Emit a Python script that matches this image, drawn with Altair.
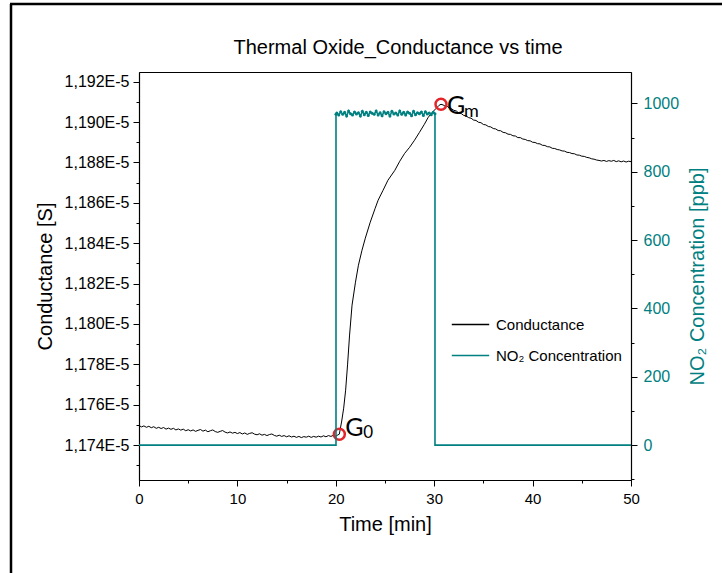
import altair as alt
import pandas as pd

# ---------------- data ----------------
cond_t = [0.00, 0.25, 0.50, 0.75, 1.00, 1.25, 1.50, 1.75, 2.00, 2.25, 2.50, 2.75,
          3.00, 3.25, 3.50, 3.75, 4.00, 4.25, 4.50, 4.75, 5.00, 5.25, 5.50, 5.75,
          6.00, 6.25, 6.50, 6.75, 7.00, 7.25, 7.50, 7.75, 8.00, 8.25, 8.50, 8.75,
          9.00, 9.25, 9.50, 9.75, 10.00, 10.25, 10.50, 10.75, 11.00, 11.25, 11.50, 11.75,
          12.00, 12.25, 12.50, 12.75, 13.00, 13.25, 13.50, 13.75, 14.00, 14.25, 14.50, 14.75,
          15.00, 15.25, 15.50, 15.75, 16.00, 16.25, 16.50, 16.75, 17.00, 17.25, 17.50, 17.75,
          18.00, 18.25, 18.50, 18.75, 19.00, 19.25, 19.50, 19.75, 20.00, 20.20,
          20.36, 20.60, 20.80, 21.00, 21.20, 21.40, 21.65, 22.00, 22.30, 22.66, 23.00, 23.50,
          24.00, 24.30, 24.80, 25.30, 26.00, 26.50, 27.00, 27.50, 28.00, 28.50, 29.00, 29.40,
          29.80, 30.20, 30.50, 30.69,
          30.90, 31.10, 31.30, 31.50, 31.75, 32.00, 32.25, 32.50, 32.75, 33.00, 33.25, 33.50,
          33.75, 34.00, 34.25, 34.50, 34.75, 35.00, 35.25, 35.50, 35.75, 36.00, 36.25, 36.50,
          36.75, 37.00, 37.25, 37.50, 37.75, 38.00, 38.25, 38.50, 38.75, 39.00, 39.25, 39.50,
          39.75, 40.00, 40.25, 40.50, 40.75, 41.00, 41.25, 41.50, 41.75, 42.00, 42.25, 42.50,
          42.75, 43.00, 43.25, 43.50, 43.75, 44.00, 44.25, 44.50, 44.75, 45.00, 45.25, 45.50,
          45.75, 46.00, 46.25, 46.50, 46.75, 47.00, 47.25, 47.50, 47.75, 48.00, 48.25, 48.50,
          48.75, 49.00, 49.25, 49.50, 49.75, 50.00]

# conductance in units of 1E-5 S
cond_v = [1.17497, 1.17490, 1.17495, 1.17488, 1.17493, 1.17486, 1.17491, 1.17483, 1.17488, 1.17482, 1.17487, 1.17479,
          1.17484, 1.17478, 1.17483, 1.17475, 1.17480, 1.17474, 1.17479, 1.17471, 1.17476, 1.17470, 1.17475, 1.17468,
          1.17473, 1.17477, 1.17469, 1.17474, 1.17466, 1.17471, 1.17475, 1.17467, 1.17463, 1.17468, 1.17472, 1.17464,
          1.17460, 1.17465, 1.17459, 1.17463, 1.17457, 1.17462, 1.17455, 1.17460, 1.17453, 1.17458, 1.17461, 1.17454,
          1.17451, 1.17456, 1.17449, 1.17453, 1.17447, 1.17452, 1.17455, 1.17448, 1.17444, 1.17449, 1.17443, 1.17447,
          1.17441, 1.17446, 1.17440, 1.17444, 1.17438, 1.17443, 1.17437, 1.17442, 1.17439, 1.17444, 1.17438, 1.17443,
          1.17439, 1.17444, 1.17440, 1.17446, 1.17441, 1.17447, 1.17443, 1.17448, 1.17444, 1.17450,
          1.17454, 1.17519, 1.17583, 1.17672, 1.17801, 1.17945, 1.18093, 1.18207, 1.18291, 1.18365, 1.18425, 1.18504,
          1.18573, 1.18613, 1.18662, 1.18712, 1.18761, 1.18806, 1.18845, 1.18875, 1.18910, 1.18949, 1.18989, 1.19024,
          1.19048, 1.19068, 1.19083, 1.19088,
          1.19085, 1.19079, 1.19081, 1.19070, 1.19066, 1.19058, 1.19055, 1.19044, 1.19042, 1.19033, 1.19030, 1.19022,
          1.19019, 1.19010, 1.19008, 1.18999, 1.18997, 1.18988, 1.18986, 1.18978, 1.18976, 1.18968, 1.18966, 1.18958,
          1.18957, 1.18949, 1.18947, 1.18940, 1.18939, 1.18932, 1.18931, 1.18923, 1.18923, 1.18916, 1.18914, 1.18908,
          1.18907, 1.18900, 1.18899, 1.18893, 1.18892, 1.18885, 1.18884, 1.18878, 1.18877, 1.18870, 1.18869, 1.18864,
          1.18862, 1.18857, 1.18856, 1.18850, 1.18849, 1.18844, 1.18843, 1.18837, 1.18836, 1.18831, 1.18830, 1.18825,
          1.18823, 1.18818, 1.18816, 1.18812, 1.18810, 1.18807, 1.18810, 1.18805, 1.18809, 1.18806, 1.18810, 1.18804,
          1.18808, 1.18803, 1.18807, 1.18802, 1.18806, 1.18804]

no2_t = [0.00, 20.02, 20.02,
         20.10, 20.30, 20.50, 20.70, 20.90, 21.10, 21.30, 21.50, 21.70, 21.90,
         22.10, 22.30, 22.50, 22.70, 22.90, 23.10, 23.30, 23.50, 23.70, 23.90,
         24.10, 24.30, 24.50, 24.70, 24.90, 25.10, 25.30, 25.50, 25.70, 25.90,
         26.10, 26.30, 26.50, 26.70, 26.90, 27.10, 27.30, 27.50, 27.70, 27.90,
         28.10, 28.30, 28.50, 28.70, 28.90, 29.10, 29.30, 29.50, 29.70, 29.90,
         30.08, 30.08, 50.00]
no2_v = [0, 0, 968,
         972, 966, 976, 968, 974, 963, 978, 970, 966, 975,
         969, 973, 963, 977, 967, 974, 965, 975, 971, 968,
         978, 966, 973, 964, 976, 970, 974, 963, 977, 969,
         972, 966, 978, 968, 974, 966, 975, 971, 964, 977,
         967, 973, 970, 975, 965, 976, 969, 972, 967, 974,
         970, 0, 0]

mark_t = [20.36, 30.69]
mark_v = [1.17454, 1.19088]
mark_main = ["G", "G"]
mark_sub = ["0", "m"]

series_names = ["Conductance", "NO₂ Concentration"]
chart_title = ["Thermal Oxide_Conductance vs time"]
x_ticks = [0, 5, 10, 15, 20, 25, 30, 35, 40, 45, 50]
left_ticks = [1.173, 1.174, 1.175, 1.176, 1.177, 1.178, 1.179, 1.180, 1.181, 1.182,
              1.183, 1.184, 1.185, 1.186, 1.187, 1.188, 1.189, 1.190, 1.191, 1.192]
right_ticks = [-100, 0, 100, 200, 300, 400, 500, 600, 700, 800, 900, 1000]

# ---------------- styling ----------------
TEAL = "#008080"
RED = "#e3242b"
FONT = "Liberation Sans"

cond_df = pd.DataFrame({"t": cond_t, "v": cond_v, "series": series_names[0]})
no2_df = pd.DataFrame({"t": no2_t, "v": no2_v, "i": list(range(len(no2_t))),
                       "series": series_names[1]})
mark_df = pd.DataFrame({"t": mark_t, "v": mark_v, "main": mark_main, "sub": mark_sub})

x_scale = alt.Scale(domain=[0, 50], nice=False, zero=False)
left_scale = alt.Scale(domain=[1.17227, 1.19248], nice=False, zero=False)
right_scale = alt.Scale(domain=[-102, 1092], nice=False, zero=False)
color_scale = alt.Scale(domain=series_names, range=["#000000", TEAL])

x_axis = alt.Axis(
    values=x_ticks, title="Time [min]",
    labelExpr="datum.value % 10 == 0 ? datum.label : ''",
    tickSize={"condition": {"test": "datum.value % 10 != 0", "value": 3}, "value": 6},
    labelFontSize=15, labelPadding=5, titlePadding=8, labelFlush=False,
)
left_axis = alt.Axis(
    orient="left", values=left_ticks, title="Conductance [S]",
    labelExpr="round(datum.value * 1000) % 2 == 0 ? replace(format(datum.value, '.3f'), '.', ',') + 'E-5' : ''",
    tickSize={"condition": {"test": "round(datum.value * 1000) % 2 != 0", "value": 3}, "value": 6},
    labelFontSize=16, labelPadding=4, titlePadding=9, labelFlush=False,
)
right_axis = alt.Axis(
    orient="right", values=right_ticks, title="NO₂ Concentration [ppb]",
    labelExpr="datum.value % 200 == 0 ? format(datum.value, 'd') : ''",
    tickSize={"condition": {"test": "datum.value % 200 != 0", "value": 3}, "value": 6},
    labelFontSize=16, labelColor=TEAL, titleColor=TEAL, labelPadding=6,
    titlePadding=9, titleAngle=270, titleBaseline="top", labelFlush=False,
)
legend = alt.Legend(
    title=None, orient="none", legendX=312, legendY=233,
    symbolType="stroke", symbolSize=1400, symbolStrokeWidth=1.3,
    labelFont=FONT, labelFontSize=15, labelColor="#000000",
    rowPadding=3, labelOffset=6,
)

X = alt.X("t:Q", scale=x_scale, axis=x_axis)
YL = alt.Y("v:Q", scale=left_scale, axis=left_axis)
YR = alt.Y("v:Q", scale=right_scale, axis=right_axis)

# legend comes from this layer only (its colour scale lists both series)
cond_line = alt.Chart(cond_df).mark_line(strokeWidth=1).encode(
    x=X, y=YL,
    color=alt.Color("series:N", scale=color_scale, legend=legend),
)

circles = alt.Chart(mark_df).mark_point(
    shape="circle", filled=False, color=RED, strokeWidth=2.5, size=120, opacity=1
).encode(x=X, y=YL)

g0_main = alt.Chart(mark_df).transform_filter("datum.sub == '0'").mark_text(
    font="Lato", fontSize=25, align="left", baseline="alphabetic", dx=6, dy=2, color="#000000"
).encode(x=X, y=YL, text="main:N")
g0_sub = alt.Chart(mark_df).transform_filter("datum.sub == '0'").mark_text(
    font="Lato", fontSize=17, align="left", baseline="alphabetic", dx=24, dy=4, color="#000000"
).encode(x=X, y=YL, text="sub:N")
gm_main = alt.Chart(mark_df).transform_filter("datum.sub == 'm'").mark_text(
    font="Lato", fontSize=25, align="left", baseline="alphabetic", dx=6, dy=10, color="#000000"
).encode(x=X, y=YL, text="main:N")
gm_sub = alt.Chart(mark_df).transform_filter("datum.sub == 'm'").mark_text(
    font="Lato", fontSize=18, align="left", baseline="alphabetic", dx=23, dy=13, color="#000000"
).encode(x=X, y=YL, text="sub:N")

left = alt.layer(cond_line, circles, g0_main, g0_sub, gm_main, gm_sub)

no2_line = alt.Chart(no2_df).mark_line(strokeWidth=1.6, color=TEAL).encode(
    x=X, y=YR, order="i:Q",
)
no2_pts = alt.Chart(no2_df).transform_filter("datum.v > 100").mark_circle(
    size=9, color=TEAL, opacity=1
).encode(x=X, y=YR)
right = alt.layer(no2_line, no2_pts)

# decorations: page frame and title text (placed in pixels, not data)
deco_data = alt.Data(values=[{"title": chart_title[0]}])
frame_left = alt.Chart(deco_data).mark_rule(color="#000000", strokeWidth=2.5).encode(
    x=alt.value(-128), y=alt.value(-68), y2=alt.value(505)
)
frame_top = alt.Chart(deco_data).mark_rule(color="#000000", strokeWidth=2.5).encode(
    x=alt.value(-129), x2=alt.value(590), y=alt.value(-68)
)
title_text = alt.Chart(deco_data).mark_text(
    font=FONT, fontSize=20, color="#000000", align="center", baseline="alphabetic"
).encode(x=alt.value(259), y=alt.value(-18), text="title:N")
deco = alt.layer(frame_left, frame_top, title_text)

chart = alt.layer(left, right, deco).resolve_scale(y="independent").properties(
    width=492, height=408,
    padding={"left": 139, "top": 72, "right": 91, "bottom": 93},
    autosize=alt.AutoSizeParams(type="none"),
    background="#ffffff",
).configure_view(
    stroke="#000000", strokeWidth=1
).configure_axis(
    grid=False, domainColor="#000000", domainWidth=1.2, tickColor="#000000", tickWidth=1,
    labelFont=FONT, labelFontSize=15, labelColor="#000000",
    titleFont=FONT, titleFontSize=20, titleFontWeight="normal", titleColor="#000000",
)

chart.save("out.html", embed_options={"renderer": "svg", "actions": False})
